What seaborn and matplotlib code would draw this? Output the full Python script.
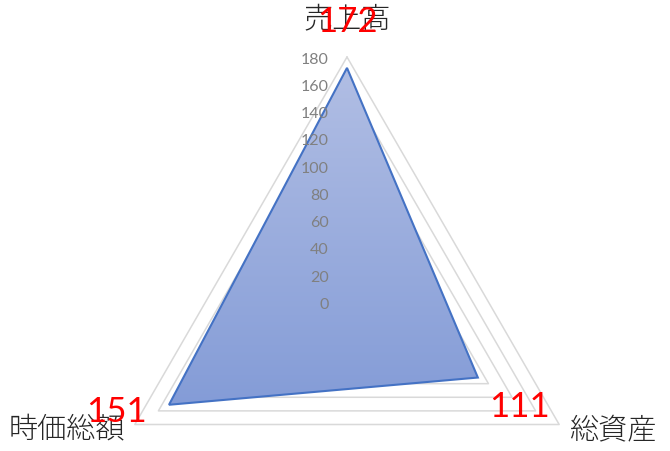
import numpy as np
import matplotlib
matplotlib.use("Agg")
import matplotlib.pyplot as plt
from matplotlib.colors import LinearSegmentedColormap
from matplotlib.patches import Polygon
import seaborn as sns

# data
categories = ["売上高", "総資産", "時価総額"]
values = [172, 111, 151]
tick_values = [0, 20, 40, 60, 80, 100, 120, 140, 160, 180]
r_max = 180

sns.set_style("white")
plt.rcParams['font.family'] = ['Lato', 'Noto Sans CJK JP', 'DejaVu Sans']

# axis angles: start at top, go clockwise
angles = np.pi / 2 - 2 * np.pi * np.arange(len(categories)) / len(categories)


def to_xy(radii):
    radii = np.asarray(radii, dtype=float)
    return radii * np.cos(angles), radii * np.sin(angles)


fig = plt.figure(figsize=(6.70, 4.51), dpi=100)
ax = fig.add_axes([0, 0, 1, 1])
scale = 245 / r_max  # px per unit
xlim = (-347 / scale, 323 / scale)
ylim = (-149 / scale, 302 / scale)
ax.axis("off")

# triangular gridlines
for t in tick_values[1:]:
    gx, gy = to_xy([t] * len(categories))
    ax.plot(np.append(gx, gx[0]), np.append(gy, gy[0]), color="#d9d9d9", lw=1.1, zorder=1)

# data polygon with a vertical gradient fill
dx, dy = to_xy(values)
poly = Polygon(np.column_stack([dx, dy]), closed=True, facecolor="none",
               edgecolor="#4472c4", lw=1.5, zorder=3)
ax.add_patch(poly)
cmap = LinearSegmentedColormap.from_list("fill", ["#b1bee4", "#849cd7"])
grad = np.linspace(0, 1, 256).reshape(-1, 1)
img = ax.imshow(grad, cmap=cmap, aspect="auto", origin="upper",
                extent=[dx.min(), dx.max(), dy.min(), dy.max()], zorder=2)
img.set_clip_path(poly)
ax.set_xlim(*xlim)
ax.set_ylim(*ylim)

# radial tick labels
for t in tick_values:
    ax.text(-13.5, t - 2, str(t), ha="right", va="center", fontsize=11.5,
            color="#808080", zorder=5)

# category labels
cat_pos = [(0, 207.5), (195.4, -94), (-206, -93.5)]
for name, (x, y) in zip(categories, cat_pos):
    ax.text(x, y, name, ha="center", va="center", fontsize=21,
            family=["Noto Sans CJK JP"], fontweight="light", color="#262626", zorder=5)

# value labels
val_pos = [(0, 205.5), (127, -77), (-169, -80.5)]
for v, (x, y) in zip(values, val_pos):
    ax.text(x, y, str(v), ha="center", va="center", fontsize=25,
            color="#ff0000", zorder=6)

fig.savefig("out.png", dpi=100)
